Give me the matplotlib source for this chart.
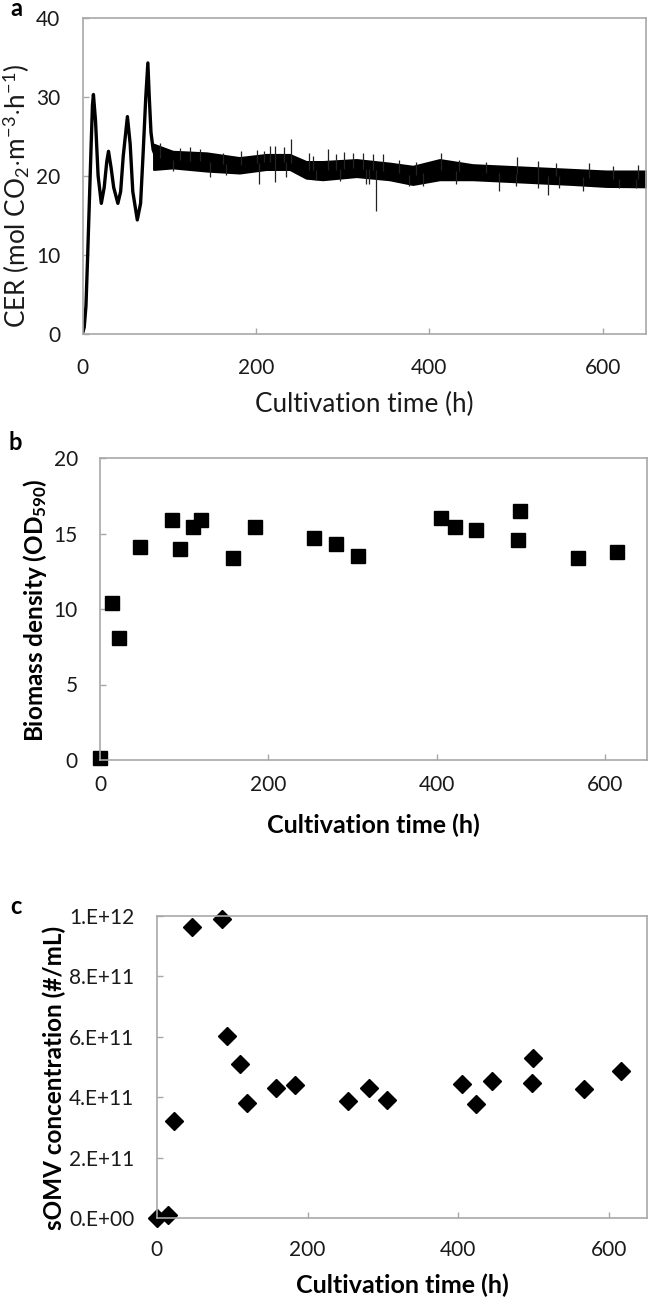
import matplotlib
matplotlib.use("Agg")
import matplotlib.pyplot as plt
import numpy as np

plt.rcParams['font.family'] = ['Lato', 'DejaVu Sans']
plt.rcParams['mathtext.fontset'] = 'custom'
plt.rcParams['mathtext.rm'] = 'Lato'
plt.rcParams['mathtext.it'] = 'Lato:italic'
plt.rcParams['mathtext.bf'] = 'Lato:bold'

# ---------------- data ----------------
# Panel a: CER, early oscillating phase (time h, value)
cer_early_t = [0, 2, 4, 6, 8, 10, 11.5, 12.6, 15, 18, 21.7, 25, 28, 30, 33, 36,
               40.8, 44, 47, 51.8, 55, 58, 63.2, 67, 70, 73, 75.4, 77, 79, 81.5, 85]
cer_early_v = [0, 0.8, 3.5, 10, 17, 24, 29, 30.3, 27, 20, 16.5, 18.5, 21.8, 23.1, 21, 18.5,
               16.5, 18, 22.5, 27.5, 24, 18, 14.4, 16.5, 23, 30, 34.3, 30, 25.5, 23.3, 22.3]
# Panel a: CER, noisy steady phase envelope (time h, lower, upper)
cer_band_t = [82, 104, 143, 181, 212, 239, 258, 277, 316, 354, 381, 412, 450, 489, 527, 565, 604, 650]
cer_band_lo = [20.8, 21.0, 20.6, 20.35, 20.8, 20.8, 19.7, 19.5, 19.9, 19.5, 18.9, 19.5, 19.5, 19.3, 19.1, 18.9, 18.65, 18.6]
cer_band_hi = [24.0, 23.1, 22.9, 22.3, 22.7, 22.7, 21.8, 21.8, 22.05, 21.6, 21.2, 22.05, 21.4, 21.2, 21.0, 20.8, 20.6, 20.6]
# Panel a: isolated spikes / hairs of the noisy signal (time h, value)
cer_spike_t = [124, 183, 201, 209, 216, 221.6, 232, 240.8, 261, 283, 302, 324, 335, 413.7, 501, 525, 584, 641,
               89.1, 112.1, 135, 162, 265.7, 292.6, 311.8, 346.4, 365.6, 384.8, 434.7, 465.5, 546, 611.4,
               147.5, 204, 221.6, 327, 338, 377, 481, 525, 536.6, 577,
               104.4, 166, 235, 269.6, 296.5, 331, 392.5, 430.9, 500, 550, 619, 638]
cer_spike_v = [23.7, 23.1, 23.3, 23.1, 23.8, 23.8, 23.65, 24.6, 22.9, 23.4, 23.0, 22.9, 22.8, 22.9, 22.4, 21.9, 21.6, 21.4,
               24.1, 23.5, 23.4, 22.9, 22.55, 22.7, 22.9, 22.7, 22.05, 21.8, 22.05, 21.8, 21.6, 21.2,
               19.9, 18.9, 19.2, 18.9, 15.5, 18.65, 18.1, 18.4, 17.6, 18.1,
               20.57, 20.1, 19.9, 19.5, 19.3, 18.9, 18.65, 18.9, 18.65, 18.4, 18.4, 18.4]

# Panel b: biomass density (OD590)
bio_t = [0, 13.7, 23, 47, 86, 95, 110, 120, 158, 184, 254, 280, 306, 405, 422, 447, 497, 499, 568, 614]
bio_v = [0.1, 10.4, 8.1, 14.1, 15.9, 14.0, 15.4, 15.9, 13.4, 15.4, 14.7, 14.3, 13.5, 16.0, 15.4, 15.25, 14.6, 16.5, 13.4, 13.75]

# Panel c: sOMV concentration (#/mL)
somv_t = [0, 15, 23, 46.5, 86.4, 93.5, 110, 120, 158.6, 184, 253, 281, 305, 405, 423, 445, 498, 499, 567, 615]
somv_v = [0, 1.0e10, 3.2e11, 9.64e11, 9.89e11, 6.04e11, 5.1e11, 3.81e11, 4.3e11, 4.39e11, 3.86e11, 4.3e11,
          3.9e11, 4.43e11, 3.77e11, 4.53e11, 4.48e11, 5.29e11, 4.26e11, 4.87e11]

x_ticks = [0, 200, 400, 600]
a_yticks = [0, 10, 20, 30, 40]
b_yticks = [0, 5, 10, 15, 20]
c_yticks = [0, 2e11, 4e11, 6e11, 8e11, 1e12]
c_yticklabels = ['0.E+00', '2.E+11', '4.E+11', '6.E+11', '8.E+11', '1.E+12']

# ---------------- figure ----------------
W, H = 650, 1299
fig = plt.figure(figsize=(W / 100, H / 100), dpi=100)

def ax_at(l, t, r, b):
    return fig.add_axes([l / W, 1 - b / H, (r - l) / W, (b - t) / H])

spine_col = '#a8a8a8'

def style(ax, pad_x, pad_y=16):
    for s in ax.spines.values():
        s.set_color(spine_col)
        s.set_linewidth(1.2)
    ax.tick_params(direction='in', length=4.5, width=1.0, color=spine_col,
                   labelsize=15, labelcolor='#1a1a1a')
    ax.tick_params(axis='x', pad=pad_x)
    ax.tick_params(axis='y', pad=pad_y)
    ax.set_xlim(0, 650)
    ax.set_xticks(x_ticks)

# Panel a
axa = ax_at(82.5, 18, 646, 333.5)
style(axa, 18)
axa.set_ylim(0, 40)
axa.set_yticks(a_yticks)
axa.fill_between(cer_band_t, cer_band_lo, cer_band_hi, color='black', lw=1.5, edgecolor='black')
axa.plot(cer_early_t, cer_early_v, color='black', lw=2.4)
band_mid = np.interp(cer_spike_t, cer_band_t, (np.array(cer_band_lo) + np.array(cer_band_hi)) / 2)
axa.vlines(cer_spike_t, band_mid, cer_spike_v, color='#222222', lw=0.9)
fig.text(16 / W, 1 - 196 / H, r'CER (mol CO$_2$$\cdot$m$^{-3}$$\cdot$h$^{-1}$)', rotation=90,
         ha='center', va='center', fontsize=18.8, color='#1a1a1a')
fig.text(364 / W, 1 - 404 / H, 'Cultivation time (h)', ha='center', va='center', fontsize=18.8, color='#1a1a1a')
fig.text(16 / W, 1 - 9 / H, 'a', ha='center', va='center', fontsize=17, fontweight='bold')

# Panel b
axb = ax_at(100, 458, 647, 760)
style(axb, 11)
axb.set_ylim(0, 20)
axb.set_yticks(b_yticks)
axb.plot(bio_t, bio_v, linestyle='none', marker='s', ms=10, color='black', clip_on=False)
fig.text(35 / W, 1 - 610 / H, r'Biomass density (OD$_{\mathbf{590}}$)', rotation=90,
         ha='center', va='center', fontsize=17.5, fontweight='bold')
fig.text(373 / W, 1 - 825 / H, 'Cultivation time (h)', ha='center', va='center', fontsize=18, fontweight='bold')
fig.text(15 / W, 1 - 443 / H, 'b', ha='center', va='center', fontsize=17, fontweight='bold')

# Panel c
axc = ax_at(156.7, 916, 647, 1218)
style(axc, 16)
axc.set_ylim(0, 1e12)
axc.set_yticks(c_yticks)
axc.set_yticklabels(c_yticklabels)
axc.plot(somv_t, somv_v, linestyle='none', marker='D', ms=9, color='black', clip_on=False)
fig.text(54 / W, 1 - 1078 / H, 'sOMV concentration (#/mL)', rotation=90,
         ha='center', va='center', fontsize=17.5, fontweight='bold')
fig.text(402 / W, 1 - 1285 / H, 'Cultivation time (h)', ha='center', va='center', fontsize=18, fontweight='bold')
fig.text(16 / W, 1 - 906 / H, 'c', ha='center', va='center', fontsize=17, fontweight='bold')

fig.savefig('out.png', dpi=100)
